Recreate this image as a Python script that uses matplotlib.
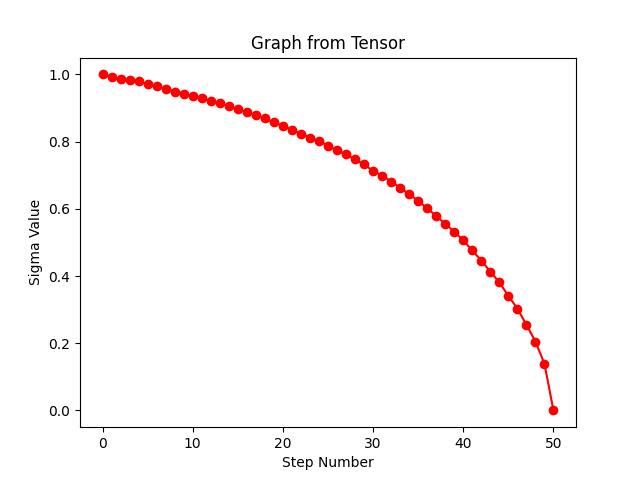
import matplotlib
matplotlib.use("Agg")
import matplotlib.pyplot as plt

# sigma values, one per step
steps = list(range(51))
sigmas = [
    1.000, 0.991, 0.985, 0.982, 0.979, 0.970, 0.964, 0.958, 0.949, 0.943,
    0.935, 0.929, 0.920, 0.914, 0.905, 0.896, 0.887, 0.878, 0.869, 0.857,
    0.847, 0.835, 0.824, 0.812, 0.801, 0.788, 0.774, 0.762, 0.747, 0.732,
    0.713, 0.699, 0.681, 0.663, 0.643, 0.624, 0.601, 0.579, 0.555, 0.532,
    0.506, 0.476, 0.446, 0.413, 0.381, 0.341, 0.303, 0.255, 0.205, 0.139,
    0.000,
]

plt.figure(figsize=(6.4, 4.8), dpi=100)
plt.plot(steps, sigmas, "o-", color="red")
plt.title("Graph from Tensor")
plt.xlabel("Step Number")
plt.ylabel("Sigma Value")
plt.savefig("out.png")
